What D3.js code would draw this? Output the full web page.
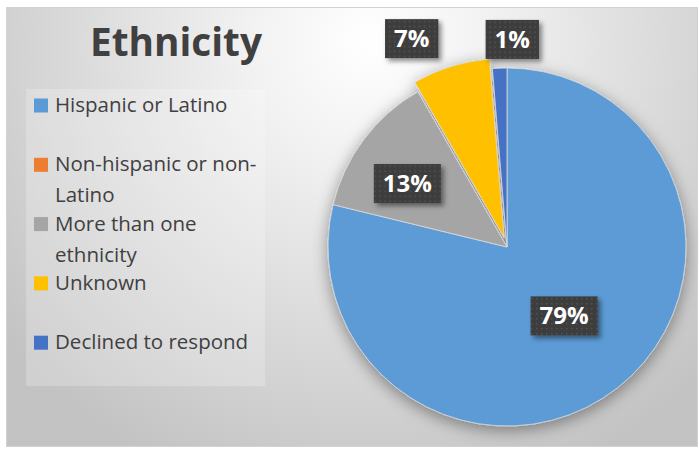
<!DOCTYPE html>
<html><head><meta charset="utf-8">
<script src="https://cdn.jsdelivr.net/npm/d3@7"></script>
<style>body{margin:0;background:#fff}svg{display:block}</style>
</head><body>
<script>
// ---- data ----
const title = "Ethnicity";
const categories = ["Hispanic or Latino", "Non-hispanic or non-Latino", "More than one ethnicity", "Unknown", "Declined to respond"];
const values = [78.8, 0, 12.9, 7.0, 1.3];
const colors = ["#5B9BD5", "#ED7D31", "#A5A5A5", "#FFC000", "#4472C4"];

// ---- layout ----
const W = 699, H = 455;
const frame = {x: 6, y: 7, w: 692, h: 440};
const cx = 507, cy = 247, R = 179;
const explodeIdx = 3, explodeDist = 10;
const labelLayout = {0: {k: 0.5, da: -1.5}, 2: {k: 0.66, da: -4.4}, 3: {k: 1.28, da: -7.3}, 4: {k: 1.16, da: 3.8}};
const font = "'Open Sans', Lato, sans-serif";

const svg = d3.select("body").append("svg").attr("width", W).attr("height", H);
const defs = svg.append("defs");

const bg = defs.append("radialGradient").attr("id", "bg")
  .attr("gradientUnits", "userSpaceOnUse")
  .attr("cx", 370).attr("cy", 40).attr("r", 470)
  .attr("fx", 370).attr("fy", 40);
bg.append("stop").attr("offset", "0%").attr("stop-color", "#ffffff");
bg.append("stop").attr("offset", "25%").attr("stop-color", "#f2f2f2");
bg.append("stop").attr("offset", "100%").attr("stop-color", "#c3c3c3");

const sh = defs.append("filter").attr("id", "pieShadow").attr("x", "-20%").attr("y", "-20%").attr("width", "140%").attr("height", "140%");
sh.append("feDropShadow").attr("dx", 0).attr("dy", 4).attr("stdDeviation", 8)
  .attr("flood-color", "#000").attr("flood-opacity", 0.4);

const lsh = defs.append("filter").attr("id", "lblShadow").attr("x", "-30%").attr("y", "-30%").attr("width", "160%").attr("height", "160%");
lsh.append("feDropShadow").attr("dx", 3).attr("dy", 3).attr("stdDeviation", 2.5)
  .attr("flood-color", "#000").attr("flood-opacity", 0.45);

const pat = defs.append("pattern").attr("id", "dots").attr("patternUnits", "userSpaceOnUse")
  .attr("width", 5).attr("height", 5);
pat.append("rect").attr("width", 5).attr("height", 5).attr("fill", "#3d3d3d");
pat.append("rect").attr("x", 2).attr("y", 2).attr("width", 1.5).attr("height", 1.5).attr("fill", "#555555");

// frame/background
svg.append("rect").attr("x", frame.x + 0.5).attr("y", frame.y + 0.5)
  .attr("width", frame.w - 1).attr("height", frame.h - 1)
  .attr("fill", "url(#bg)").attr("stroke", "#d2d2d2").attr("stroke-width", 1);

// title
svg.append("text").attr("x", 176).attr("y", 56).attr("text-anchor", "middle")
  .attr("font-family", font).attr("font-weight", 700).attr("font-size", 39)
  .attr("textLength", 172).attr("lengthAdjust", "spacingAndGlyphs")
  .attr("fill", "#404040").text(title);

// legend box
svg.append("rect").attr("x", 26).attr("y", 89).attr("width", 239).attr("height", 297)
  .attr("fill", "#ffffff").attr("fill-opacity", 0.22);

// pie
const pie = d3.pie().value(d => d).sort(null).startAngle(0).endAngle(2 * Math.PI);
const arcs = pie(values);
const arc = d3.arc().innerRadius(0).outerRadius(R);

const pieG = svg.append("g").attr("transform", `translate(${cx},${cy})`).attr("filter", "url(#pieShadow)");
pieG.selectAll("path").data(arcs.filter(a => a.value > 0)).join("path")
  .attr("d", arc)
  .attr("transform", d => {
    if (d.index !== explodeIdx) return null;
    const m = (d.startAngle + d.endAngle) / 2;
    return `translate(${explodeDist * Math.sin(m)},${-explodeDist * Math.cos(m)})`;
  })
  .attr("fill", d => colors[d.index])
  .attr("stroke", "#dcdcdc").attr("stroke-width", 0.8);

// data labels
const lblG = svg.append("g").attr("transform", `translate(${cx},${cy})`);
arcs.forEach(a => {
  if (a.value <= 0) return;
  const L = labelLayout[a.index];
  const m = (a.startAngle + a.endAngle) / 2 + L.da * Math.PI / 180;
  const x = L.k * R * Math.sin(m), y = -L.k * R * Math.cos(m);
  const g = lblG.append("g").attr("transform", `translate(${x},${y})`);
  const t = g.append("text").attr("text-anchor", "middle").attr("y", 8.5)
    .attr("font-family", font).attr("font-weight", 700).attr("font-size", 24)
    .attr("fill", "#ffffff").text(Math.round(a.value) + "%");
  const tw = t.node().getComputedTextLength();
  const bw = tw + 18, bh = 39;
  g.insert("rect", "text").attr("x", -bw / 2).attr("y", -bh / 2).attr("width", bw).attr("height", bh)
    .attr("fill", "url(#dots)").attr("filter", "url(#lblShadow)");
});

// legend
const legG = svg.append("g");
const wrapW = 212;
function wrapText(str, fontSize) {
  const tokens = str.split(/(?<=[ -])/);
  const meas = legG.append("text").attr("font-family", font).attr("font-size", fontSize).attr("visibility", "hidden");
  const lines = []; let cur = "";
  tokens.forEach(tok => {
    const test = cur + tok;
    meas.text(test.trimEnd());
    if (meas.node().getComputedTextLength() > wrapW && cur) { lines.push(cur.trimEnd()); cur = tok; }
    else cur = test;
  });
  if (cur) lines.push(cur.trimEnd());
  meas.remove();
  return lines;
}
const legFS = 20.5, step = 59.3, lineH = 31, firstBase = 112;
categories.forEach((c, i) => {
  const base = firstBase + i * step;
  legG.append("rect").attr("x", 34).attr("y", base - 13.5).attr("width", 14).attr("height", 14).attr("fill", colors[i]);
  const lines = wrapText(c, legFS);
  const t = legG.append("text").attr("font-family", font).attr("font-size", legFS).attr("fill", "#404040");
  lines.forEach((ln, j) => t.append("tspan").attr("x", 55).attr("y", base + j * lineH).text(ln));
});
</script>
</body></html>
